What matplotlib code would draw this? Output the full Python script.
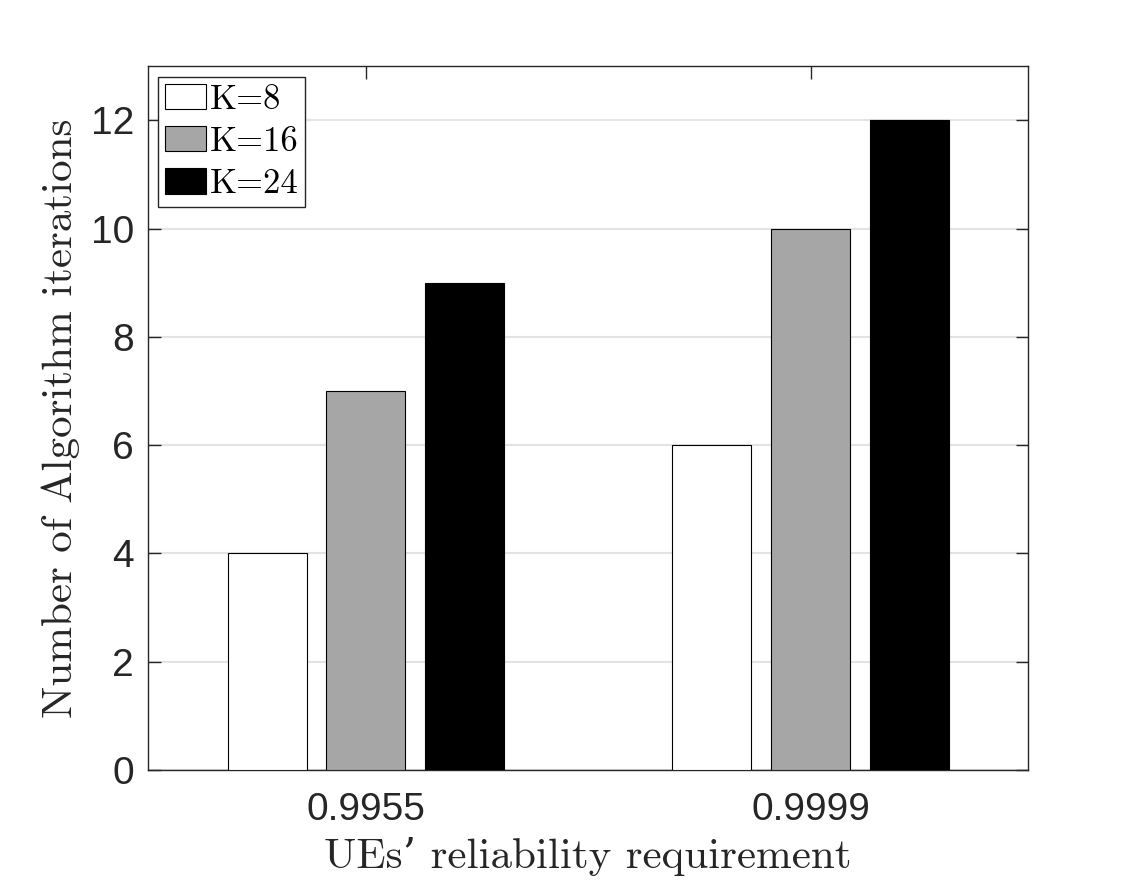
import matplotlib.pyplot as plt
import numpy as np

# data
reliability = ['0.9955', '0.9999']
k_labels = ['K=8', 'K=16', 'K=24']
iters_k8 = [4, 6]
iters_k16 = [7, 10]
iters_k24 = [9, 12]
colors = ['white', '#a6a6a6', 'black']

plt.rcParams['axes.unicode_minus'] = False
serif = ['cmr10', 'DejaVu Serif']
sans = 'Liberation Sans'

fig = plt.figure(figsize=(11.38, 8.85), dpi=100)
ax = fig.add_axes([0.130, 0.130, 0.773, 0.795])

x = np.arange(1, len(reliability) + 1)
width = 0.178
step = 0.222
for i, (vals, lab) in enumerate(zip([iters_k8, iters_k16, iters_k24], k_labels)):
    ax.bar(x + (i - 1) * step, vals, width, color=colors[i], edgecolor='black',
           linewidth=0.8, label=lab, zorder=3)

ax.set_xlim(0.51, 2.488)
ax.set_ylim(0, 13)
ax.set_yticks(range(0, 13, 2))
ax.set_xticks(x)
ax.set_xticklabels(reliability)
ax.yaxis.grid(True, color='#e3e3e3', linewidth=1.5, zorder=0)
ax.set_axisbelow(True)

ax.tick_params(direction='in', top=True, right=True, length=9, width=1,
               labelsize=28, pad=10, colors='#262626')
ax.tick_params(axis='x', pad=16)
for lbl in ax.get_xticklabels() + ax.get_yticklabels():
    lbl.set_fontfamily(sans)
    lbl.set_color('#262626')
for sp in ax.spines.values():
    sp.set_color('#262626')
    sp.set_linewidth(1)

ax.set_xlabel('UEs\u2019 reliability requirement', fontfamily=serif, fontsize=31,
              color='#262626', labelpad=6)
ax.set_ylabel('Number of Algorithm iterations', fontfamily=serif, fontsize=31,
              color='#262626', labelpad=8)

leg = ax.legend(loc='upper left', prop={'family': serif, 'size': 25}, fancybox=False,
                edgecolor='#262626', framealpha=1, borderaxespad=0.3, handlelength=1.18,
                handleheight=0.75, handletextpad=0.1, labelspacing=0.3, borderpad=0.2)
leg.get_frame().set_linewidth(1)

fig.savefig('out.png', dpi=100)
